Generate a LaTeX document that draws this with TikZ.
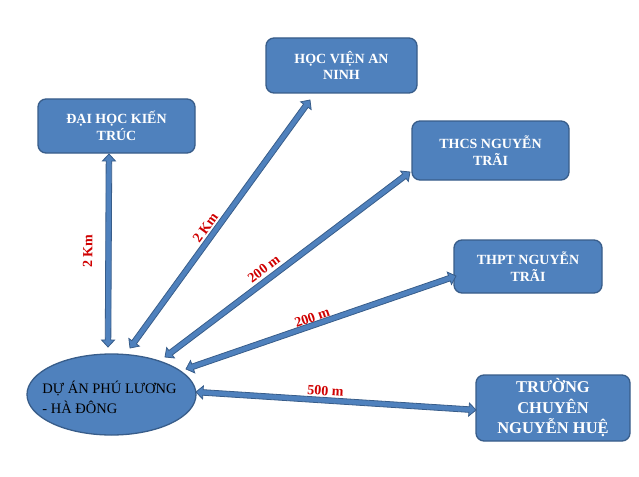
\documentclass[tikz,border=0pt]{standalone}
\usepackage{fontspec}
\setmainfont{Liberation Serif}
\usetikzlibrary{calc,shapes.geometric}
\definecolor{bfill}{HTML}{4F81BD}
\definecolor{bline}{HTML}{385D8A}
\definecolor{lred}{HTML}{D00000}
\tikzset{
  boxnode/.style={draw=bline, line width=1.3pt, fill=bfill, rounded corners=8pt,
    text=white, align=center, inner sep=0pt,
    font=\fontsize{14}{16.5}\selectfont\bfseries},
  projnode/.style={draw=bline, line width=1.3pt, fill=bfill, ellipse, inner sep=0pt,
    minimum width=169pt, minimum height=81pt},
  projtext/.style={align=left, text=black, inner sep=0pt,
    font=\fontsize{14.5}{20}\selectfont},
  lbl/.style={text=lred, font=\fontsize{14}{16}\selectfont\bfseries, inner sep=0pt, sloped},
  arrstyle/.style={fill=bfill, draw=bline, line width=0.8pt, line join=miter}
}
\newcommand\blockarr[2]{%
  \coordinate (ba1) at ($(#1)!7pt!(#2)$);
  \coordinate (ba2) at ($(#2)!7pt!(#1)$);
  \filldraw[arrstyle] (#1) -- ($(ba1)!6.5pt!90:(#2)$) -- ($(ba1)!2.8pt!90:(#2)$)
    -- ($(ba2)!2.8pt!-90:(#1)$) -- ($(ba2)!6.5pt!-90:(#1)$) -- (#2)
    -- ($(ba2)!6.5pt!90:(#1)$) -- ($(ba2)!2.8pt!90:(#1)$)
    -- ($(ba1)!2.8pt!-90:(#2)$) -- ($(ba1)!6.5pt!-90:(#2)$) -- cycle;}
\begin{document}
\begin{tikzpicture}[x=1pt,y=-1pt]
\useasboundingbox (0,0) rectangle (639,476);
\fill[white] (0,0) rectangle (639,476);
% nodes
\node[boxnode, minimum width=157pt, minimum height=54pt] (dhkt) at (116.5,126) {ĐẠI HỌC KIẾN\\TRÚC};
\node[boxnode, minimum width=151pt, minimum height=55pt] (hvan) at (341.5,65.5) {HỌC VIỆN AN\\NINH};
\node[boxnode, minimum width=157pt, minimum height=59pt] (thcs) at (490.5,150.5) {THCS NGUYỄN\\TRÃI};
\node[boxnode, minimum width=148pt, minimum height=53pt] (thpt) at (528,266.5) {THPT NGUYỄN\\TRÃI};
\node[boxnode, minimum width=154pt, minimum height=66pt, font=\fontsize{16.5}{20.5}\selectfont\bfseries] (tcnh) at (553,408) {TRƯỜNG\\CHUYÊN\\NGUYỄN HUỆ};
\node[projnode] (proj) at (111.5,394.5) {};
\node[projtext] (projlabel) at ($(proj.center)+(-2,3)$) {DỰ ÁN PHÚ LƯƠNG\\- HÀ ĐÔNG};
% connector end points
\coordinate (v1) at (108,347);   \coordinate (v2) at (109,154);
\coordinate (h1) at (130,348);   \coordinate (h2) at (310,100);
\coordinate (c1) at (165,357);   \coordinate (c2) at (410,172);
\coordinate (p1) at (186,369);   \coordinate (p2) at (456,276);
\coordinate (t1) at (196,392);   \coordinate (t2) at (476,410);
% connectors
\blockarr{v1}{v2}
\blockarr{h1}{h2}
\blockarr{c1}{c2}
\blockarr{p1}{p2}
\blockarr{t1}{t2}
% labels
\path (v1) -- (v2) node[lbl, pos=0.497, above=16pt] (lv) {2 Km};
\path (h1) -- (h2) node[lbl, pos=0.463, above=5pt] (lh) {2 Km};
\path (c1) -- (c2) node[lbl, pos=0.43, above=6pt] (lc) {200 m};
\path (p1) -- (p2) node[lbl, pos=0.476, above=2.5pt] (lp) {200 m};
\path (t1) -- (t2) node[lbl, pos=0.46, above=4.5pt] (lt) {500 m};
\end{tikzpicture}
\end{document}
